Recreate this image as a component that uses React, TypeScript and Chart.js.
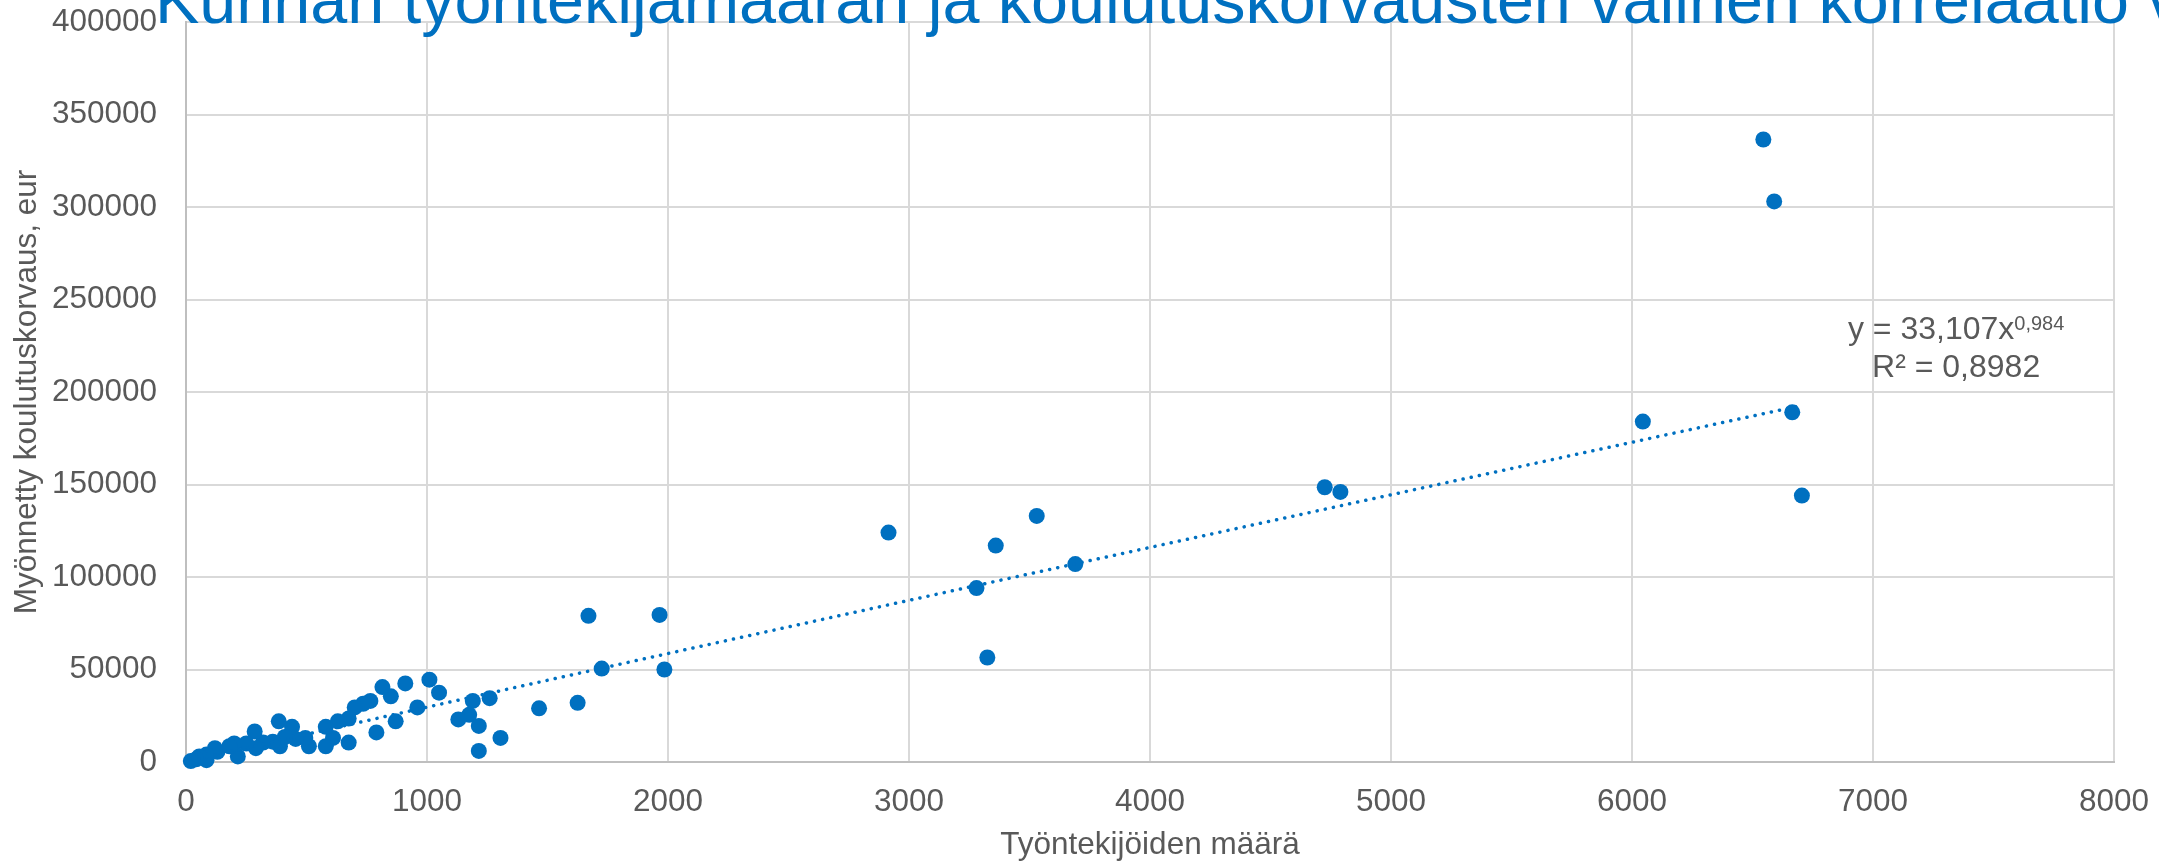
import React, { useEffect, useRef } from "react";
import { Chart, registerables } from "chart.js";

Chart.register(...registerables);

const TITLE = "Kunnan työntekijämäärän ja koulutuskorvausten välinen korrelaatio v";
const X_TITLE = "Työntekijöiden määrä";
const Y_TITLE = "Myönnetty koulutuskorvaus, eur";

const X_TICKS = [0, 1000, 2000, 3000, 4000, 5000, 6000, 7000, 8000];
const Y_TICKS = [0, 50000, 100000, 150000, 200000, 250000, 300000, 350000, 400000];

// Työntekijöiden määrä (x)
const EMPLOYEES = [
  6545, 6590, 6665, 6705, 6045, 4725, 4790, 3690, 3530, 3360, 3280, 3325, 2915,
  1965, 1985, 1670, 1725, 1625, 1465, 1305, 1260, 1190, 1175, 1130, 1215, 1215,
  1050, 1010, 960, 910, 870, 850, 815, 790, 765, 735, 700, 675, 675, 630, 610,
  580, 580, 510, 495, 455, 440, 385, 390, 410, 360, 320, 285, 290, 250, 215,
  200, 180, 130, 120, 85, 85, 55, 42, 20,
];
// Myönnetty koulutuskorvaus, eur (y)
const COMPENSATION = [
  336500, 303000, 189000, 144000, 184000, 148500, 146000, 107000, 133000, 117000,
  94000, 56500, 124000, 79500, 50000, 79000, 50500, 32000, 29000, 13000, 34500,
  33000, 25500, 23000, 19500, 6000, 37500, 44500, 29500, 42500, 22000, 35500,
  40500, 16000, 33000, 31500, 29500, 10500, 23500, 22000, 13000, 19000, 8500,
  8500, 13000, 12500, 19000, 22000, 8500, 13500, 11000, 10500, 16500, 7500,
  10000, 3000, 10000, 8500, 5500, 7500, 4000, 1000, 3000, 1500, 500,
];

// Excel power trendline shown in the chart: y = 33,107x^0,984
const TREND_A = 33.107;
const TREND_B = 0.984;
const EQ_LINE1 = "y = 33,107x";
const EQ_SUP = "0,984";
const EQ_LINE2 = "R² = 0,8982";
const EQ_POS = [7345, 228650];

const FONT = "'Liberation Sans', Arial, sans-serif";
const BLUE = "#0070C0";
const GRAY_TEXT = "#595959";

export default function App() {
  const ref = useRef<HTMLCanvasElement | null>(null);

  useEffect(() => {
    if (!ref.current) return;
    const points = EMPLOYEES.map((x, i) => ({ x, y: COMPENSATION[i] }));
    const xMin = Math.min(...EMPLOYEES);
    const xMax = Math.max(...EMPLOYEES);
    const trend: { x: number; y: number }[] = [];
    const N = 120;
    for (let i = 0; i <= N; i++) {
      const x = xMin + ((xMax - xMin) * i) / N;
      trend.push({ x, y: TREND_A * Math.pow(x, TREND_B) });
    }

    const overlay = {
      id: "overlay",
      afterDraw(chart: any) {
        const ctx = chart.ctx as CanvasRenderingContext2D;
        ctx.save();
        ctx.textAlign = "left";
        ctx.textBaseline = "alphabetic";
        ctx.fillStyle = BLUE;
        ctx.font = `66.5px ${FONT}`;
        ctx.fillText(TITLE, 155, 22.5);

        const xs = chart.scales.x;
        const ys = chart.scales.y;
        const cx = xs.getPixelForValue(EQ_POS[0]);
        const b1 = ys.getPixelForValue(EQ_POS[1]);
        ctx.fillStyle = GRAY_TEXT;
        ctx.font = `32px ${FONT}`;
        const w1 = ctx.measureText(EQ_LINE1).width;
        ctx.font = `20px ${FONT}`;
        const w2 = ctx.measureText(EQ_SUP).width;
        const start = cx - (w1 + w2) / 2;
        ctx.font = `32px ${FONT}`;
        ctx.fillText(EQ_LINE1, start, b1);
        ctx.font = `20px ${FONT}`;
        ctx.fillText(EQ_SUP, start + w1, b1 - 9);
        ctx.font = `32px ${FONT}`;
        ctx.textAlign = "center";
        ctx.fillText(EQ_LINE2, cx, b1 + 38);
        ctx.restore();
      },
    };

    const chart = new Chart(ref.current, {
      type: "scatter",
      data: {
        datasets: [
          {
            label: "Kunnat",
            data: points,
            backgroundColor: BLUE,
            borderWidth: 0,
            pointRadius: 8,
            pointHoverRadius: 8,
            clip: false as any,
            order: 2,
          },
          {
            label: "Trendi",
            data: trend,
            showLine: true,
            pointRadius: 0,
            borderColor: BLUE,
            borderWidth: 3.5,
            borderDash: [0.1, 8.2],
            borderCapStyle: "round",
            fill: false,
            order: 1,
          } as any,
        ],
      },
      options: {
        responsive: false,
        animation: false,
        devicePixelRatio: 1,
        layout: { padding: { top: 22, right: 45, left: 0, bottom: 0 } },
        plugins: {
          legend: { display: false },
          tooltip: { enabled: false },
          title: { display: false },
        },
        scales: {
          x: {
            type: "linear",
            min: 0,
            max: 8000,
            afterBuildTicks: (s: any) => {
              s.ticks = X_TICKS.map((v) => ({ value: v }));
            },
            afterFit: (s: any) => {
              s.height = 101;
              s.paddingLeft = 0;
              s.paddingRight = 0;
              s.paddingTop = 0;
              s.paddingBottom = 0;
            },
            ticks: {
              autoSkip: false,
              maxRotation: 0,
              padding: 21,
              color: GRAY_TEXT,
              font: { family: FONT, size: 31.5 },
              callback: (v: any) => String(v),
            },
            grid: { color: "#d9d9d9", lineWidth: 2, drawTicks: false },
            border: { color: "#bfbfbf", width: 2 },
            title: {
              display: true,
              text: X_TITLE,
              color: GRAY_TEXT,
              font: { family: FONT, size: 31.5 },
              padding: { top: 0, bottom: -1 },
            },
          },
          y: {
            type: "linear",
            min: 0,
            max: 400000,
            afterBuildTicks: (s: any) => {
              s.ticks = Y_TICKS.map((v) => ({ value: v }));
            },
            afterFit: (s: any) => {
              s.width = 186;
              s.paddingLeft = 0;
              s.paddingRight = 0;
              s.paddingTop = 0;
              s.paddingBottom = 0;
            },
            ticks: {
              autoSkip: false,
              padding: 29,
              color: GRAY_TEXT,
              font: { family: FONT, size: 31.5 },
              callback: (v: any) => String(v),
            },
            grid: { color: "#d9d9d9", lineWidth: 2, drawTicks: false },
            border: { color: "#bfbfbf", width: 2 },
            title: {
              display: true,
              text: Y_TITLE,
              color: GRAY_TEXT,
              font: { family: FONT, size: 31.5 },
              padding: { top: 8, bottom: 0 },
            },
          },
        },
      },
      plugins: [overlay],
    });
    return () => chart.destroy();
  }, []);

  return (
    <div style={{ position: "absolute", left: 0, top: 0, width: 2159, height: 863, background: "#fff" }}>
      <canvas ref={ref} width={2159} height={863} style={{ display: "block" }} />
    </div>
  );
}
